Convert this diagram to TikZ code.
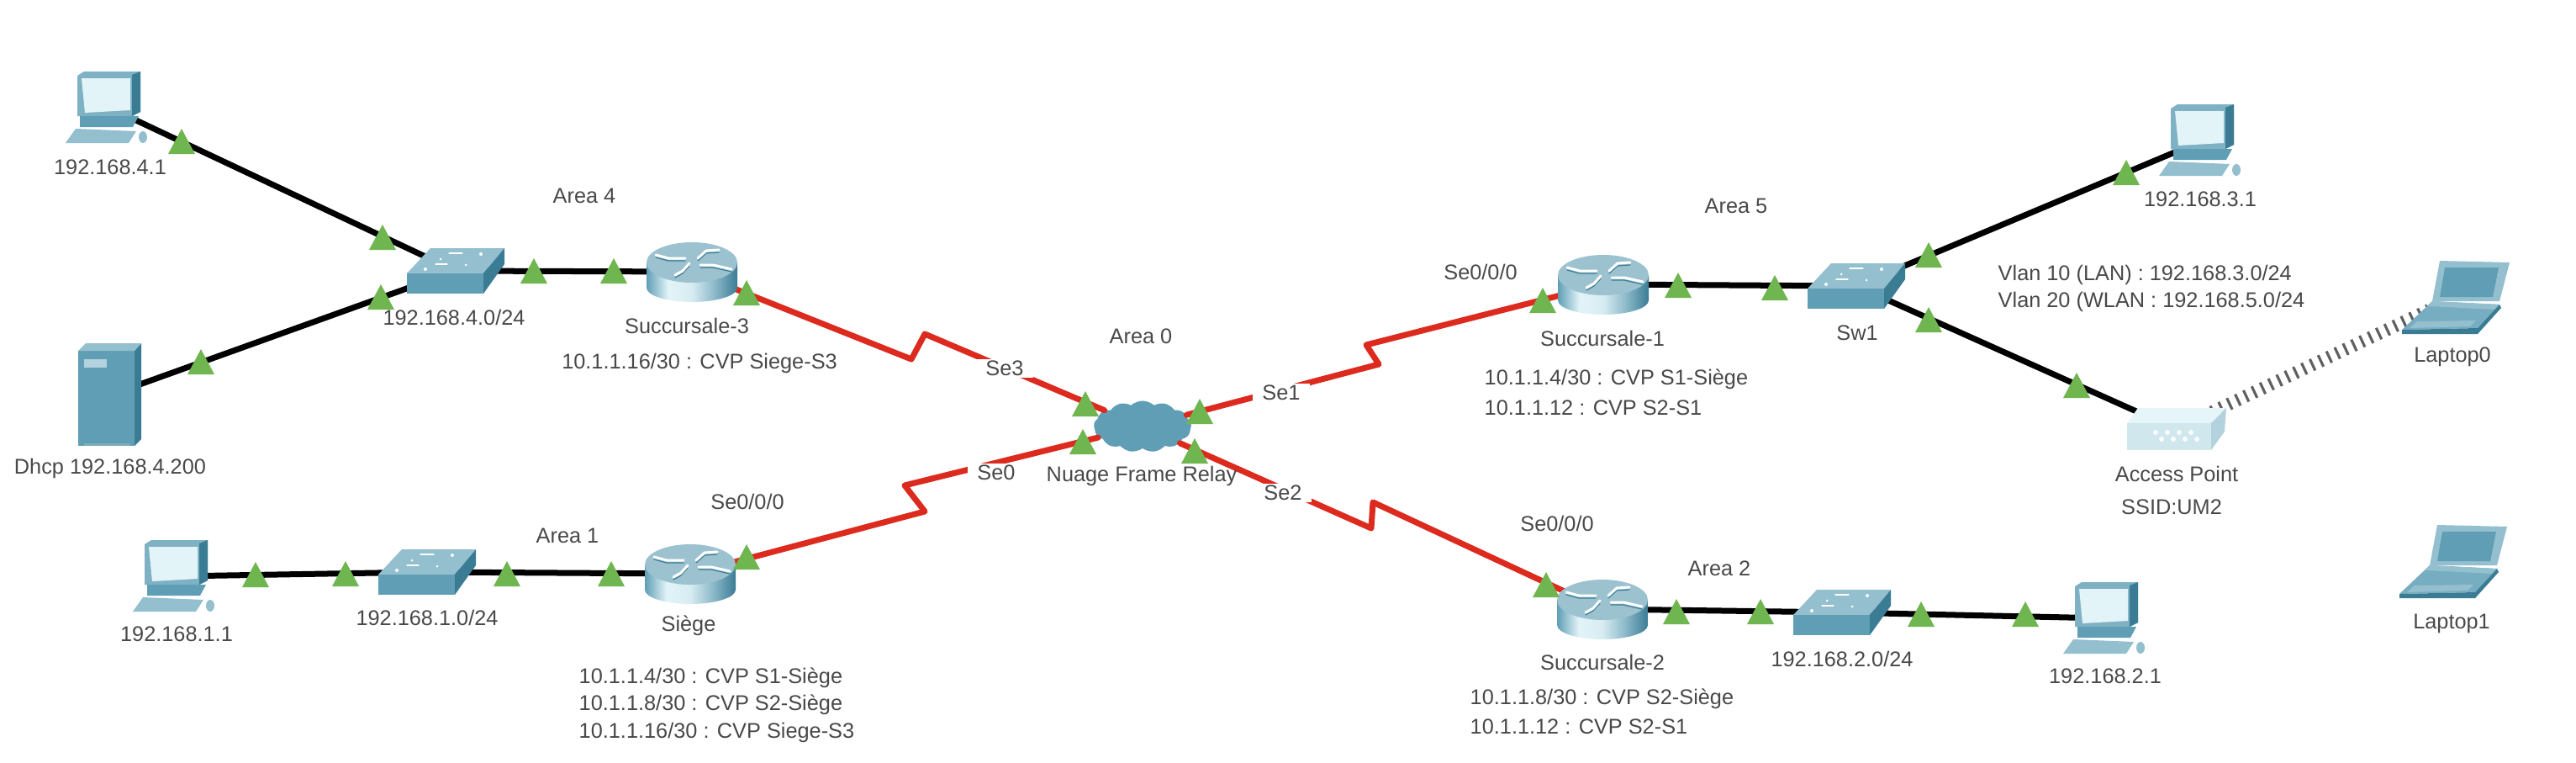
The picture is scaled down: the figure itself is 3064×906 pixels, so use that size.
\documentclass[tikz,border=0pt]{standalone}
\usepackage{fontspec}
\setmainfont{Liberation Sans}
\usetikzlibrary{shapes.symbols}
\definecolor{portgreen}{HTML}{70B650}
\definecolor{labelgray}{HTML}{484848}
\definecolor{serialred}{HTML}{DD2A1E}
\definecolor{iconmid}{HTML}{5F9EB5}
\definecolor{icondark}{HTML}{3B7C95}
\definecolor{iconlight}{HTML}{93BFCE}
\definecolor{iconscreen}{HTML}{E3F4F8}
\definecolor{routertop}{HTML}{9CC2CF}
\pgfdeclarehorizontalshading{routerbody}{100bp}{color(0bp)=(iconmid); color(25bp)=(iconmid); color(37bp)=(iconscreen); color(50bp)=(iconscreen!85!iconlight); color(62bp)=(iconmid!70!white); color(75bp)=(icondark); color(100bp)=(icondark)}
\tikzset{
	devnode/.style={inner sep=0pt,minimum width=0.6cm,minimum height=0.4cm},
	apnode/.style={inner sep=0pt,minimum width=0.84cm,minimum height=0.54cm},
	lbl/.style={text=labelgray,inner sep=0pt},
	selbl/.style={text=labelgray,fill=white,inner xsep=0.11cm,inner ysep=0.02cm},
	ethernet/.style={line width=0.07cm,black},
	serial/.style={line width=0.07cm,serialred},
	wifi/.style={line width=0.15cm,line cap=butt,gray!75!black,dash pattern=on 0.9pt off 2.2pt},
	pc/.pic={
		\fill[iconmid!80!white] (-38,-38)--(-30,-43)--(37,-43)--(37,5)--(27,10)--(-38,10)--cycle;
		\fill[icondark] (27,-39)--(37,-43)--(37,5)--(27,10)--cycle;
		\fill[iconscreen] (-33,-35)--(25,-35)--(25,3)--(-29,6)--cycle;
		\fill[iconmid] (-35,10)--(35,10)--(28,23)--(-35,23)--cycle;
		\fill[iconlight] (-40,25)--(32,28)--(23,42)--(-52,42)--cycle;
		\fill[iconlight] (40,35) ellipse [x radius=5,y radius=7];
	},
	server/.pic={
		\fill[iconmid] (-37,-53)--(30,-53)--(30,60)--(-37,60)--cycle;
		\fill[icondark] (30,-53)--(38,-62)--(38,52)--(30,60)--cycle;
		\fill[iconlight] (-37,-53)--(-28,-62)--(38,-62)--(30,-53)--cycle;
		\fill[iconlight!70!white] (-30,-43)--(-3,-43)--(-3,-33)--(-30,-33)--cycle;
		\fill[icondark!60!iconscreen] (-30,57)--(25,57)--(25,60)--(-30,60)--cycle;
	},
	switchbox/.pic={
		\fill[iconlight] (-58,3)--(-30,-27)--(58,-27)--(33,3)--cycle;
		\fill[iconmid] (-58,3)--(33,3)--(33,27)--(-58,27)--cycle;
		\fill[icondark] (33,3)--(58,-27)--(58,-8)--(33,27)--cycle;
		\fill[white] (-36,-2) circle (2) (-18,-14) circle (1.5) (30,-20) circle (2) (12,-7) circle (1.5);
		\draw[white,line width=0.012cm] (-24,-8)--(-10,-8) (-8,-21)--(8,-21);
	},
	apbox/.pic={
		\fill[iconscreen!90!white] (-58,-7)--(-45,-25)--(60,-25)--(42,-7)--cycle;
		\fill[iconscreen!75!iconlight] (-58,-7)--(42,-7)--(42,25)--(-58,25)--cycle;
		\fill[iconlight!70!white] (42,-7)--(60,-25)--(58,3)--(42,25)--cycle;
		\foreach \dx in {-24,-10,...,24} \fill[white!80!iconscreen] (\dx,4) circle (3) (\dx+7,12) circle (3);
	},
	router/.pic={
		\shade[shading=routerbody]
			(-54,-11)--(-54,19) arc [start angle=180,end angle=0,x radius=54,y radius=17]--(54,-11)--cycle;
		\fill[routertop] (0,-11) ellipse [x radius=54,y radius=24];
		\draw[icondark,line width=0.012cm] (-43,-17)--(-28,-13)--(-8,-13) (7,-13)--(17,-22)--(32,-23) (10,-5)--(25,-5)--(47,0) (-20,7)--(-11,2)--(-3,-7);
		\draw[white,line width=0.03cm] (-43,-20)--(-28,-16)--(-8,-16) (7,-16)--(17,-25)--(32,-26) (10,-8)--(25,-8)--(47,-3) (-20,4)--(-11,-1)--(-3,-10);
	},
	laptop/.pic={
		\fill[iconlight] (-18,-44)--(65,-42)--(53,4)--(-27,4)--cycle;
		\fill[iconmid] (-12,-36)--(52,-36)--(45,-1)--(-18,-1)--cycle;
		\fill[iconmid!85!white] (-27,4)--(53,8)--(27,36)--(-63,38)--cycle;
		\fill[iconlight] (-27,4)--(53,8)--(48,14)--(-32,10)--cycle;
		\fill[iconlight] (-45,28)--(25,27)--(18,34)--(-54,36)--cycle;
		\fill[icondark] (-63,38)--(27,36)--(27,43)--(-63,43)--cycle;
		\fill[icondark] (53,8)--(27,36)--(27,43)--(55,12)--cycle;
	}
}
\begin{document}
\begin{tikzpicture}[font=\fontsize{7.2}{8}\selectfont,line join=round,line cap=round,x=0.01cm,y=-0.01cm]
	\useasboundingbox (0,0) rectangle (3064,906);
	\node[devnode] (pc4) at (130,128) {};
	\node[devnode] (dhcp) at (130,470) {};
	\node[devnode] (sw4) at (542,322) {};
	\node[devnode] (r3) at (823,323) {};
	\node[devnode] (pc1) at (210,685) {};
	\node[devnode] (sw1) at (508,680) {};
	\node[devnode] (siege) at (821,682) {};
	\node[cloud,cloud puffs=13,cloud puff arc=85,aspect=1.9,inner sep=0pt,minimum width=1.16cm,minimum height=0.61cm,
		left color=iconmid,middle color=iconmid!70!iconlight,right color=iconmid] (frelay) at (1359,507) {};
	\node[devnode] (r1) at (1907,338) {};
	\node[devnode] (swlan) at (2208,340) {};
	\node[devnode] (pc3) at (2620,167) {};
	\node[apnode] (ap) at (2588,510) {};
	\node[devnode] (lap0) at (2920,354) {};
	\node[devnode] (lap1) at (2917,668) {};
	\node[devnode] (r2) at (1906,724) {};
	\node[devnode] (sw2) at (2191,728) {};
	\node[devnode] (pc2) at (2506,735) {};
	\coordinate (z3a) at (1084,427);
	\coordinate (z3b) at (1100,397);
	\coordinate (z0a) at (1100,608);
	\coordinate (z0b) at (1076,577);
	\coordinate (z1a) at (1640,433);
	\coordinate (z1b) at (1625,410);
	\coordinate (z2a) at (1631,628);
	\coordinate (z2b) at (1633,597);
	\draw[ethernet] (pc4)--(sw4);
	\draw[ethernet] (dhcp)--(sw4);
	\draw[ethernet] (sw4)--(r3);
	\draw[ethernet] (pc1)--(sw1);
	\draw[ethernet] (sw1)--(siege);
	\draw[ethernet] (r1)--(swlan);
	\draw[ethernet] (swlan)--(pc3);
	\draw[ethernet] (swlan)--(ap);
	\draw[ethernet] (r2)--(sw2);
	\draw[ethernet] (sw2)--(pc2);
	\draw[serial] (r3)--(z3a)--(z3b)--(frelay);
	\draw[serial] (siege)--(z0a)--(z0b)--(frelay);
	\draw[serial] (frelay)--(z1a)--(z1b)--(r1);
	\draw[serial] (frelay)--(z2a)--(z2b)--(r2);
	\draw[wifi] (ap)--(lap0);
	\pic at (pc4) {pc};
	\pic at (dhcp) {server};
	\pic at (sw4) {switchbox};
	\pic at (r3) {router};
	\pic at (pc1) {pc};
	\pic at (sw1) {switchbox};
	\pic at (siege) {router};
	\pic at (r1) {router};
	\pic at (swlan) {switchbox};
	\pic at (pc3) {pc};
	\pic at (ap) {apbox};
	\pic at (lap0) {laptop};
	\pic at (lap1) {laptop};
	\pic at (r2) {router};
	\pic at (sw2) {switchbox};
	\pic at (pc2) {pc};
	\foreach \px/\py in {216/168,455/282,453/353,239/430,635/322,730/322,888/348,304/683,411/682,603/682,727/682,888/662,1291/480,1288/525,1427/489,1421/536,1835/357,1996/339,2111/342,2294/303,2294/380,2470/458,2529/205,1839/695,1994/727,2094/727,2285/730,2409/730}
		\fill[portgreen] (\px,\py) ++(-16,15) -- ++(32,0) -- ++(-16,-30) -- cycle;
	\node[lbl] (lblpc4) at (131,199) {192.168.4.1};
	\node[lbl] (lbldhcp) at (131,557) {Dhcp 192.168.4.200};
	\node[lbl] (lblsw4) at (540,377) {192.168.4.0/24};
	\node[lbl] (lblr3) at (817,387) {Succursale-3};
	\node[lbl] (lblcvp3) at (832,432) {10.1.1.16/30 : CVP Siege-S3};
	\node[lbl] (lblarea4) at (695,233) {Area 4};
	\node[lbl] (lblpc1) at (210,754) {192.168.1.1};
	\node[lbl] (lblsw1) at (508,734) {192.168.1.0/24};
	\node[lbl] (lblsiege) at (819,744) {Siège};
	\node[lbl] (lblarea1) at (675,637) {Area 1};
	\node[lbl] (lblsesiege) at (889,596) {Se0/0/0};
	\node[lbl,anchor=west] (lblcvpa) at (688,806) {10.1.1.4/30 : CVP S1-Siège};
	\node[lbl,anchor=west] (lblcvpb) at (688,838) {10.1.1.8/30 : CVP S2-Siège};
	\node[lbl,anchor=west] (lblcvpc) at (688,871) {10.1.1.16/30 : CVP Siege-S3};
	\node[lbl] (lblarea0) at (1357,400) {Area 0};
	\node[selbl] (lblse3) at (1195,438) {Se3};
	\node[selbl] (lblse1) at (1524,467) {Se1};
	\node[selbl] (lblse0) at (1185,562) {Se0};
	\node[selbl] (lblse2) at (1526,586) {Se2};
	\node[lbl] (lblfrelay) at (1358,566) {Nuage Frame Relay};
	\node[lbl] (lblser1) at (1761,323) {Se0/0/0};
	\node[lbl] (lblr1) at (1906,402) {Succursale-1};
	\node[lbl] (lblarea5) at (2065,245) {Area 5};
	\node[lbl] (lblswlan) at (2209,396) {Sw1};
	\node[lbl,anchor=west] (lblcvpd) at (1765,451) {10.1.1.4/30 : CVP S1-Siège};
	\node[lbl,anchor=west] (lblcvpe) at (1765,485) {10.1.1.12 : CVP S2-S1};
	\node[lbl] (lblpc3) at (2617,237) {192.168.3.1};
	\node[lbl,anchor=west] (lblvlana) at (2376,327) {Vlan 10 (LAN) : 192.168.3.0/24};
	\node[lbl,anchor=west] (lblvlanb) at (2376,359) {Vlan 20 (WLAN : 192.168.5.0/24};
	\node[lbl] (lbllap0) at (2917,424) {Laptop0};
	\node[lbl] (lblap) at (2589,563) {Access Point};
	\node[lbl] (lblssid) at (2583,603) {SSID:UM2};
	\node[lbl] (lbllap1) at (2916,741) {Laptop1};
	\node[lbl] (lblser2) at (1852,622) {Se0/0/0};
	\node[lbl] (lblarea2) at (2045,676) {Area 2};
	\node[lbl] (lblr2) at (1906,787) {Succursale-2};
	\node[lbl] (lblsw2) at (2191,783) {192.168.2.0/24};
	\node[lbl] (lblpc2) at (2504,804) {192.168.2.1};
	\node[lbl,anchor=west] (lblcvpf) at (1748,831) {10.1.1.8/30 : CVP S2-Siège};
	\node[lbl,anchor=west] (lblcvpg) at (1748,864) {10.1.1.12 : CVP S2-S1};
\end{tikzpicture}
\end{document}
